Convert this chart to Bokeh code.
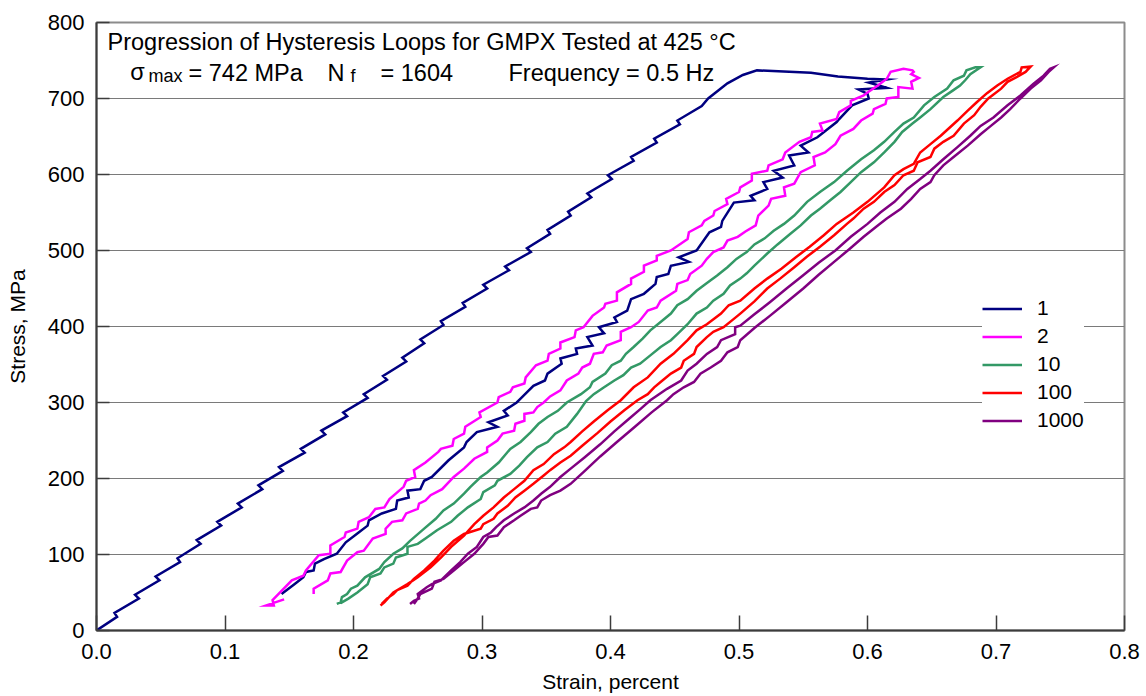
from bokeh.plotting import figure
from bokeh.models import Range1d, FixedTicker, Label, Legend, LegendItem, NumeralTickFormatter
from bokeh.embed import file_html
from bokeh.resources import INLINE

# ---------------- data (strain in percent, stress in MPa) ----------------
cycle_labels = ["1", "2", "10", "100", "1000"]
cycle_colors = ["#000080", "#FF00FF", "#339966", "#FF0000", "#800080"]

x_ticks = [0.0, 0.1, 0.2, 0.3, 0.4, 0.5, 0.6, 0.7, 0.8]
y_ticks = [0, 100, 200, 300, 400, 500, 600, 700, 800]

# cycle 1
c1_up_strain = [0.000, 0.016, 0.014, 0.033, 0.030, 0.049, 0.046, 0.065, 0.063, 0.081, 0.078, 0.097, 0.094,
                0.113, 0.110, 0.129, 0.126, 0.145, 0.142, 0.162, 0.159, 0.178, 0.175, 0.195, 0.192, 0.211,
                0.208, 0.226, 0.223, 0.241, 0.238, 0.255, 0.252, 0.270, 0.268, 0.287, 0.285, 0.304, 0.301,
                0.321, 0.318, 0.338, 0.335, 0.353, 0.351, 0.369, 0.367, 0.385, 0.382, 0.401, 0.398, 0.418,
                0.416, 0.436, 0.434, 0.454, 0.452, 0.471, 0.476, 0.491, 0.503, 0.514, 0.556, 0.577, 0.600, 0.615]
c1_up_stress = [0, 18, 23, 42, 47, 66, 71, 90, 95, 114, 119, 138, 143,
                162, 167, 186, 191, 210, 215, 234, 239, 258, 263, 282, 287, 306,
                311, 330, 335, 354, 359, 378, 383, 402, 407, 426, 431, 450, 455,
                474, 479, 498, 503, 522, 527, 546, 551, 570, 575, 594, 599, 618,
                623, 642, 647, 666, 671, 690, 700, 720, 731, 737, 734, 729, 726, 725]
c1_down_strain = [0.601, 0.615, 0.593, 0.600, 0.601, 0.588, 0.578, 0.576, 0.561, 0.548, 0.554, 0.539, 0.543,
                  0.527, 0.534, 0.519, 0.522, 0.509, 0.512, 0.496, 0.487, 0.486, 0.477, 0.467, 0.453, 0.461,
                  0.447, 0.445, 0.436, 0.435, 0.426, 0.416, 0.413, 0.403, 0.405, 0.391, 0.395, 0.382, 0.386,
                  0.373, 0.374, 0.361, 0.362, 0.351, 0.349, 0.340, 0.330, 0.327, 0.317, 0.320, 0.305, 0.312,
                  0.296, 0.288, 0.286, 0.274, 0.261, 0.255, 0.252, 0.242, 0.243, 0.234, 0.233, 0.222, 0.212,
                  0.211, 0.204, 0.194, 0.187, 0.177, 0.170, 0.169, 0.163, 0.161, 0.154, 0.144]
c1_down_stress = [721, 714, 712, 706, 700, 691, 673, 669, 649, 638, 629, 625, 612,
                  605, 596, 590, 581, 572, 566, 563, 539, 531, 524, 500, 491, 485,
                  480, 469, 465, 456, 443, 436, 421, 412, 406, 399, 391, 386, 375,
                  371, 364, 358, 351, 338, 329, 322, 305, 300, 289, 283, 274, 268,
                  261, 248, 241, 224, 202, 197, 186, 184, 175, 171, 160, 154, 145,
                  138, 129, 116, 101, 94, 88, 79, 77, 70, 61, 48]

# cycle 2
c2_up_strain = [0.146, 0.132, 0.138, 0.137, 0.152, 0.161, 0.163, 0.173, 0.182, 0.182, 0.193, 0.194, 0.203,
                0.204, 0.212, 0.217, 0.224, 0.228, 0.239, 0.241, 0.248, 0.247, 0.256, 0.266, 0.268, 0.277,
                0.278, 0.286, 0.287, 0.299, 0.298, 0.312, 0.313, 0.322, 0.324, 0.333, 0.334, 0.342, 0.351,
                0.352, 0.361, 0.361, 0.372, 0.373, 0.379, 0.386, 0.395, 0.396, 0.405, 0.405, 0.416, 0.416,
                0.426, 0.426, 0.436, 0.436, 0.447, 0.460, 0.461, 0.471, 0.473, 0.480, 0.481, 0.491, 0.490,
                0.500, 0.501, 0.510, 0.510, 0.522, 0.523, 0.534, 0.536, 0.547, 0.556, 0.557, 0.565, 0.563,
                0.576, 0.578, 0.587, 0.587, 0.597, 0.600, 0.608, 0.615, 0.618, 0.628, 0.635]
c2_up_stress = [41, 33, 33, 40, 66, 72, 79, 99, 101, 112, 123, 129, 134,
                143, 149, 160, 162, 173, 189, 197, 202, 211, 221, 235, 239, 243,
                252, 259, 268, 281, 287, 300, 307, 314, 320, 325, 333, 349, 355,
                364, 371, 379, 386, 395, 399, 414, 425, 430, 434, 445, 456, 463,
                472, 480, 487, 493, 500, 515, 524, 533, 539, 546, 552, 561, 568,
                577, 583, 592, 601, 605, 612, 620, 629, 643, 649, 656, 658, 667,
                673, 682, 691, 697, 704, 708, 717, 726, 735, 739, 737]
c2_down_strain = [0.636, 0.634, 0.640, 0.634, 0.635, 0.624, 0.624, 0.615, 0.614, 0.605, 0.604, 0.595, 0.589,
                  0.579, 0.575, 0.567, 0.558, 0.559, 0.548, 0.543, 0.535, 0.536, 0.525, 0.523, 0.515, 0.513,
                  0.505, 0.499, 0.491, 0.488, 0.480, 0.475, 0.471, 0.462, 0.460, 0.452, 0.451, 0.439, 0.436,
                  0.429, 0.422, 0.416, 0.408, 0.408, 0.397, 0.394, 0.387, 0.384, 0.378, 0.375, 0.366, 0.361,
                  0.353, 0.348, 0.343, 0.340, 0.333, 0.333, 0.326, 0.325, 0.316, 0.312, 0.304, 0.304, 0.294,
                  0.286, 0.278, 0.269, 0.260, 0.256, 0.251, 0.250, 0.241, 0.238, 0.230, 0.225, 0.225, 0.215,
                  0.208, 0.203, 0.195, 0.190, 0.182, 0.180, 0.169, 0.169]
c2_down_stress = [735, 732, 727, 722, 713, 715, 702, 700, 693, 686, 680, 671, 660,
                  651, 640, 629, 623, 612, 603, 588, 583, 572, 568, 559, 546, 533,
                  525, 518, 513, 504, 498, 489, 480, 469, 461, 456, 447, 434, 425,
                  421, 406, 399, 393, 382, 375, 366, 364, 351, 346, 338, 329, 316,
                  308, 300, 294, 287, 285, 276, 272, 263, 259, 250, 241, 235, 226,
                  213, 202, 186, 178, 171, 167, 160, 154, 145, 143, 134, 127, 121,
                  105, 103, 92, 77, 75, 66, 55, 48]

# cycle 10
c10_up_strain = [0.187, 0.190, 0.191, 0.195, 0.198, 0.203, 0.209, 0.220, 0.224, 0.231,
                 0.238, 0.244, 0.255, 0.264, 0.270, 0.278, 0.286, 0.291, 0.299, 0.304,
                 0.313, 0.322, 0.330, 0.338, 0.344, 0.351, 0.359, 0.366, 0.377, 0.384,
                 0.386, 0.396, 0.401, 0.408, 0.412, 0.418, 0.425, 0.431, 0.439, 0.447,
                 0.452, 0.460, 0.467, 0.474, 0.483, 0.491, 0.498, 0.506, 0.512, 0.520,
                 0.527, 0.535, 0.543, 0.553, 0.563, 0.574, 0.584, 0.595, 0.605, 0.613,
                 0.621, 0.628, 0.636, 0.644, 0.652, 0.662, 0.667, 0.675, 0.677, 0.684, 0.688]
c10_up_stress = [35, 37, 44, 48, 55, 59, 70, 81, 90, 101,
                 108, 118, 134, 147, 158, 167, 180, 189, 202, 208,
                 221, 239, 248, 261, 272, 281, 289, 300, 311, 320,
                 327, 338, 349, 355, 364, 373, 384, 395, 406, 417,
                 428, 436, 447, 456, 467, 478, 489, 498, 508, 516,
                 526, 535, 546, 564, 577, 590, 605, 620, 632, 643,
                 656, 667, 675, 691, 702, 713, 724, 730, 737, 741, 741]
c10_down_strain = [0.680, 0.676, 0.672, 0.666, 0.659, 0.649, 0.641, 0.635, 0.627, 0.621,
                   0.613, 0.605, 0.595, 0.587, 0.579, 0.571, 0.563, 0.556, 0.548, 0.540,
                   0.530, 0.522, 0.512, 0.506, 0.501, 0.493, 0.488, 0.480, 0.475, 0.467,
                   0.460, 0.452, 0.447, 0.439, 0.431, 0.423, 0.416, 0.410, 0.403, 0.395,
                   0.387, 0.381, 0.374, 0.366, 0.357, 0.351, 0.343, 0.335, 0.329, 0.322,
                   0.312, 0.310, 0.301, 0.299, 0.289, 0.281, 0.276, 0.265, 0.256, 0.250,
                   0.242, 0.242, 0.233, 0.231, 0.224, 0.221, 0.213, 0.211, 0.203, 0.196, 0.190]
c10_down_stress = [732, 724, 717, 710, 702, 686, 675, 667, 656, 643,
                   629, 616, 603, 590, 577, 566, 555, 546, 533, 522,
                   508, 496, 480, 470, 463, 454, 443, 434, 425, 417,
                   403, 390, 382, 373, 362, 351, 346, 336, 329, 320,
                   311, 302, 285, 268, 259, 248, 241, 228, 217, 206,
                   197, 191, 182, 173, 162, 151, 143, 132, 121, 114,
                   110, 101, 96, 88, 83, 75, 70, 61, 50, 42, 36]

# cycle 100
c100_up_strain = [0.221, 0.224, 0.231, 0.242, 0.250, 0.260, 0.268, 0.276, 0.286, 0.294,
                  0.301, 0.309, 0.317, 0.325, 0.333, 0.340, 0.348, 0.356, 0.364, 0.369,
                  0.378, 0.387, 0.398, 0.408, 0.418, 0.429, 0.439, 0.449, 0.460, 0.467,
                  0.475, 0.486, 0.492, 0.501, 0.512, 0.522, 0.533, 0.545, 0.555, 0.566,
                  0.576, 0.589, 0.600, 0.613, 0.621, 0.628, 0.636, 0.641, 0.649, 0.657,
                  0.670, 0.678, 0.685, 0.693, 0.701, 0.709, 0.719, 0.720, 0.727]
c100_up_stress = [33, 37, 50, 61, 70, 83, 96, 110, 125, 140,
                  151, 162, 175, 186, 197, 211, 219, 232, 241, 248,
                  262, 275, 290, 303, 320, 333, 351, 364, 382, 395,
                  403, 417, 428, 434, 450, 463, 476, 492, 505, 520,
                  535, 550, 564, 583, 599, 607, 614, 629, 640, 651,
                  671, 684, 695, 707, 717, 726, 735, 741, 742]
c100_down_strain = [0.723, 0.716, 0.709, 0.704, 0.694, 0.688, 0.683, 0.675, 0.667, 0.659,
                    0.652, 0.649, 0.639, 0.636, 0.628, 0.621, 0.613, 0.605, 0.597, 0.589,
                    0.584, 0.574, 0.563, 0.553, 0.543, 0.532, 0.522, 0.512, 0.501, 0.496,
                    0.488, 0.480, 0.475, 0.467, 0.465, 0.457, 0.455, 0.447, 0.439, 0.434,
                    0.429, 0.421, 0.411, 0.400, 0.390, 0.378, 0.369, 0.361, 0.353, 0.348,
                    0.340, 0.333, 0.326, 0.320, 0.312, 0.309, 0.301, 0.299, 0.286, 0.278,
                    0.270, 0.263, 0.255, 0.247, 0.242, 0.234, 0.231, 0.226, 0.222]
c100_down_stress = [735, 728, 722, 713, 700, 689, 678, 667, 651, 643,
                    634, 623, 616, 605, 599, 586, 577, 564, 555, 542,
                    535, 520, 505, 492, 478, 463, 450, 433, 417, 410,
                    399, 393, 386, 373, 364, 355, 346, 338, 327, 320,
                    311, 303, 290, 275, 260, 243, 230, 221, 211, 204,
                    193, 184, 175, 164, 154, 147, 140, 134, 127, 118,
                    105, 92, 79, 68, 59, 53, 48, 42, 35]

# cycle 1000
c1000_up_strain = [0.244, 0.247, 0.251, 0.250, 0.257, 0.261, 0.268, 0.276, 0.283, 0.289,
                   0.296, 0.301, 0.307, 0.311, 0.317, 0.325, 0.333, 0.340, 0.346, 0.353,
                   0.361, 0.369, 0.380, 0.392, 0.403, 0.414, 0.423, 0.431, 0.444, 0.455,
                   0.460, 0.467, 0.475, 0.483, 0.486, 0.497, 0.497, 0.501, 0.512, 0.524,
                   0.537, 0.549, 0.562, 0.575, 0.587, 0.600, 0.610, 0.621, 0.631, 0.641,
                   0.649, 0.659, 0.670, 0.680, 0.688, 0.698, 0.709, 0.719, 0.729, 0.737,
                   0.742, 0.745]
c1000_up_stress = [35, 39, 42, 48, 57, 61, 66, 79, 90, 101,
                   110, 123, 129, 136, 145, 154, 162, 171, 180, 189,
                   202, 213, 228, 245, 262, 278, 291, 303, 318, 329,
                   342, 351, 364, 373, 382, 390, 399, 401, 416, 432,
                   450, 466, 484, 500, 518, 535, 550, 564, 581, 594,
                   605, 620, 636, 651, 664, 675, 691, 704, 719, 730,
                   739, 741]
c1000_down_strain = [0.741, 0.735, 0.727, 0.719, 0.711, 0.704, 0.696, 0.688, 0.678, 0.667,
                     0.659, 0.652, 0.649, 0.641, 0.634, 0.626, 0.615, 0.608, 0.597, 0.586,
                     0.574, 0.562, 0.550, 0.537, 0.524, 0.512, 0.501, 0.499, 0.491, 0.486,
                     0.478, 0.470, 0.465, 0.457, 0.449, 0.444, 0.432, 0.419, 0.405, 0.392,
                     0.380, 0.369, 0.361, 0.353, 0.346, 0.343, 0.338, 0.330, 0.325, 0.317,
                     0.312, 0.305, 0.301, 0.294, 0.286, 0.278, 0.270, 0.263, 0.261, 0.252,
                     0.250, 0.247]
c1000_down_stress = [735, 724, 713, 700, 686, 675, 664, 653, 638, 623,
                     612, 599, 590, 581, 568, 555, 542, 533, 518, 502,
                     485, 468, 450, 432, 414, 398, 382, 373, 366, 355,
                     346, 338, 327, 320, 311, 303, 287, 268, 248, 229,
                     210, 193, 184, 178, 171, 162, 160, 151, 145, 136,
                     125, 123, 114, 101, 90, 79, 68, 64, 55, 48,
                     42, 35]

loops = [
    (c1_up_strain + c1_down_strain, c1_up_stress + c1_down_stress),
    (c2_up_strain + c2_down_strain, c2_up_stress + c2_down_stress),
    (c10_up_strain + c10_down_strain, c10_up_stress + c10_down_stress),
    (c100_up_strain + c100_down_strain, c100_up_stress + c100_down_stress),
    (c1000_up_strain + c1000_down_strain, c1000_up_stress + c1000_down_stress),
]

FONT = "Liberation Sans"

p = figure(width=1146, height=696, output_backend="svg", toolbar_location=None,
           x_range=Range1d(0, 0.8), y_range=Range1d(0, 800),
           min_border_left=96, min_border_right=22, min_border_top=22, min_border_bottom=66)
p.background_fill_color = "white"
p.border_fill_color = "white"
p.outline_line_color = "#8c8c8c"
p.outline_line_width = 2

p.xgrid.visible = False
p.ygrid.ticker = FixedTicker(ticks=y_ticks)
p.ygrid.grid_line_color = "#7a7a7a"
p.ygrid.grid_line_width = 1.2

p.xaxis.ticker = FixedTicker(ticks=x_ticks)
p.xaxis.formatter = NumeralTickFormatter(format="0.0")
p.yaxis.ticker = FixedTicker(ticks=y_ticks)

for ax, tick_in in ((p.xaxis, 15), (p.yaxis, 13)):
    ax.axis_line_color = "#3c3c3c"
    ax.axis_line_width = 2
    ax.major_tick_in = tick_in
    ax.major_tick_out = 0
    ax.major_tick_line_color = "#3c3c3c"
    ax.major_tick_line_width = 1.5
    ax.minor_tick_line_color = None
    ax.major_label_text_font = FONT
    ax.major_label_text_font_size = "22px"
    ax.major_label_text_color = "black"
    ax.axis_label_text_font = FONT
    ax.axis_label_text_font_size = "21px"
    ax.axis_label_text_font_style = "normal"
    ax.axis_label_text_color = "black"

p.xaxis.axis_label = "Strain, percent"
p.yaxis.axis_label = "Stress, MPa"
p.xaxis.major_label_standoff = 13
p.xaxis.major_label_text_line_height = 1.0
p.xaxis.axis_label_text_line_height = 1.0
p.xaxis.axis_label_standoff = 8
p.yaxis.major_label_standoff = 12
p.yaxis.axis_label_standoff = 16

items = []
for (xs, ys), lab, col in zip(loops, cycle_labels, cycle_colors):
    r = p.line(xs, ys, line_color=col, line_width=2.5, line_join="miter")
    items.append(LegendItem(label=lab, renderers=[r]))

legend = Legend(items=items, location=(886, 198), glyph_width=40, glyph_height=21,
                label_height=21, label_standoff=15, spacing=4, padding=12, margin=0,
                border_line_color=None, background_fill_color="white", background_fill_alpha=1.0,
                label_text_font=FONT, label_text_font_size="21px", label_text_color="black")
p.add_layout(legend)

# text block (middle baseline)
def add_text(txt, x, y, size="23.5px"):
    p.add_layout(Label(x=x, y=y, text=txt, text_font=FONT, text_font_size=size,
                       text_color="black", text_baseline="middle", text_align="left"))

add_text("Progression of Hysteresis Loops for GMPX Tested at 425 °C", 0.0086, 775)
add_text("σ", 0.0262, 735)
add_text("max", 0.0405, 730, "18px")
add_text("= 742 MPa", 0.0716, 733.5)
add_text("N", 0.1798, 733.5)
add_text("f", 0.1977, 730, "18px")
add_text("= 1604", 0.2210, 733.5)
add_text("Frequency = 0.5 Hz", 0.3206, 733.5)

open("out.html", "w").write(file_html(p, INLINE))
